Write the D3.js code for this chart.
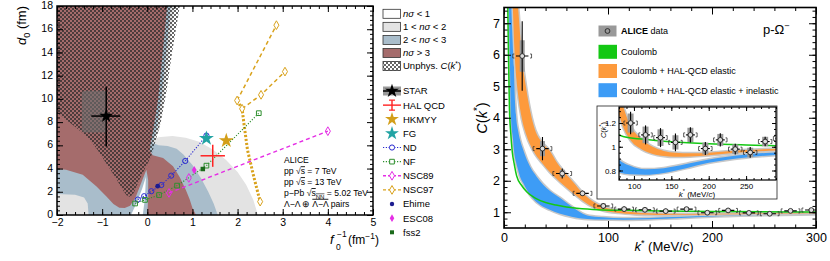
<!DOCTYPE html>
<html>
<head>
<meta charset="utf-8">
<script src="https://cdn.jsdelivr.net/npm/d3@7/dist/d3.min.js"></script>
<style>
html,body{margin:0;padding:0;background:#ffffff;}
svg{display:block;}
</style>
</head>
<body>
<svg id="chart" width="830" height="261"></svg>
<script>
// ================= DATA : LEFT PANEL  (f0^-1 [fm^-1], d0 [fm]) =================
const leftXTicks = [-2,-1,0,1,2,3,4,5];
const leftYTicks = [0,2,4,6,8,10,12,14,16,18];
const regionNs12 = [[-2,18],[0.6,18],[0.48,14],[0.37,10],[0.26,7.3],[0.17,6.6],[0.3,6.72],[0.56,6.8],[0.85,6.65],[1.15,6.3],[1.45,5.65],[1.74,4.75],[2.0,3.7],[2.19,2.6],[2.35,1.3],[2.45,0],[-2,0]];
const regionNs23 = [[-2,18],[0.52,18],[0.42,14],[0.31,10],[0.2,7.3],[0.12,6.2],[0.25,6.0],[0.45,5.95],[0.65,5.7],[0.8,5.2],[1.0,4.3],[1.2,3.1],[1.35,2.0],[1.47,1.0],[1.56,0],[-1.3,0],[-1.32,1.0],[-1.4,1.5],[-1.6,1.75],[-2,1.8]];
const regionNs3 = [[-2,18],[0.44,18],[0.34,14],[0.24,10],[0.13,7.3],[0.05,5.6],[0.12,5.15],[0.35,4.9],[0.57,4.2],[0.72,3.25],[0.85,2.2],[0.94,1.33],[1.0,0.6],[1.08,0],[0.0,0],[0.02,1.5],[0.02,3.0],[-0.02,3.9],[-0.12,2.9],[-0.26,1.5],[-0.38,0.8],[-0.5,0.6],[-0.62,0.62],[-0.75,0.95],[-0.91,1.62],[-1.13,2.47],[-1.43,3.47],[-1.8,3.9],[-2,3.96]];
const regionNs01 = [[-0.36,0],[-0.1,0],[-0.05,1.5],[-0.03,3.3],[-0.11,2.3],[-0.23,1.1]];
const regionUnphys = [[-2,18],[0.72,18],[0.55,14],[0.42,10.5],[0.3,8],[0.18,6.3],[0.08,5.0],[-0.05,4.0],[-0.17,3.05],[-0.3,1.9],[-0.38,1.55],[-0.46,1.7],[-0.55,2.2],[-0.7,3.2],[-0.9,4.4],[-1.1,5.6],[-1.3,6.6],[-1.6,7.6],[-2,8.8]];

const starPoint = {f:-0.91, d:8.52, fLo:-1.24, fHi:-0.6, dLo:5.9, dHi:11.06};
const starSys = {fLo:-1.45, fHi:-0.89, dLo:7.1, dHi:10.7};
const halQcd = {f:1.45, d:5.1, fErr:0.27, dErr:0.95};
const hkmyy = [1.75, 6.4];
const fgPt = [1.31, 6.6];
const ndF = [-0.21,-0.07,0.09,0.31,0.53,0.84,1.31];
const ndD = [1.33,1.62,2.05,2.58,3.39,4.65,6.84];
const nfF = [-0.27,-0.05,0.26,0.66,1.31,2.47];
const nfD = [0.99,1.3,1.72,2.53,4.25,8.77];
const nsc89F = [0.48,4.0];
const nsc89D = [1.9,7.22];
const nsc89ExtraF = [0.92];
const nsc89ExtraD = [3.19];
const nsc97aF = [1.99,2.86],            nsc97aD = [9.86,16.35];
const nsc97bF = [2.1,2.52,3.05],        nsc97bD = [9.15,10.35,12.35];
const nsc97cF = [1.99,2.1,2.15,2.22,2.34,2.5], nsc97cD = [9.86,9.15,7.6,5.6,3.6,1.15];
const ehime = [0.23,2.48];
const esc08 = [1.04,3.87];
const fss2 = [1.23,3.96];

// ================= DATA : RIGHT PANEL  (k* [MeV/c], C(k*)) =================
const rightXTicks = [0,100,200,300];
const rightYTicks = [1,2,3,4,5,6,7];
const insetXTicks = [100,150,200,250];
const insetYTicks = [0.8,1,1.2];
const kStar   = [17.5,37,56,75.5,95.5,115.5,135.5,155.5,175.5,195.5,215.5,235.5,255.5,275.5,295.5];
const cVal    = [5.96,3.02,2.23,1.6,1.2,1.1,1.077,1.037,1.1,0.985,1.058,0.98,0.952,1.044,1.07];
const statErr = [1.1,0.37,0.16,0.08,0.095,0.08,0.08,0.075,0.065,0.055,0.055,0.045,0.045,0.04,0.04];
const sysErr  = [0.5,0.24,0.12,0.06,0.08,0.07,0.07,0.06,0.06,0.05,0.05,0.04,0.04,0.04,0.04];
const kHalfBar = 6;      // horizontal bar half width (MeV/c)
const kBracket = 9;      // bracket offset (MeV/c)

const coulombK = [3.6,4.2,5.2,6.5,8,10,12.2,17,21.8,30,40,50,60,70,80,90,120,150,200,250,300];
const coulombC = [7.6,6.2,4.3,3.5,2.9,2.5,2.15,1.85,1.65,1.45,1.31,1.23,1.17,1.13,1.1,1.08,1.06,1.043,1.025,1.015,1.008];

const elasticK  = [8.5,10,12,13.5,17,21,26.6,30,37,44,50,56,66,76,86,96,110,125,140,155,175,200,250,300];
const elasticLo = [7.5,6.2,5.2,4.75,4.0,3.5,3.05,2.85,2.55,2.28,2.08,1.9,1.62,1.36,1.16,1.05,0.98,0.94,0.922,0.915,0.918,0.928,0.955,0.972];
const elasticHi = [9.5,8.8,8.0,7.5,6.0,5.0,4.0,3.6,3.2,2.95,2.62,2.35,1.98,1.6,1.33,1.17,1.065,1.0,0.965,0.95,0.945,0.95,0.972,0.985];

const inelasticK  = [4.8,5.8,6.7,8.7,9.6,11.5,13.5,15.4,18.6,25,31.4,44,54,65,80,95,115,140,170,200,250,300];
const inelasticLo = [7.5,5.5,4.02,3.3,2.97,2.6,2.35,2.13,1.92,1.55,1.32,1.08,0.95,0.86,0.785,0.768,0.765,0.78,0.82,0.865,0.91,0.935];
const inelasticHi = [10,9,8.2,7.5,5.6,4.1,3.6,3.3,2.97,2.45,2.13,1.68,1.45,1.18,0.895,0.84,0.81,0.82,0.855,0.893,0.935,0.955];

// ================= STYLE =================
const FONT = "'Liberation Sans', Arial, Helvetica, sans-serif";
const C_LGRAY = "#e3e3e3", C_BLUEGRAY = "#a9bdcb", C_MAROON = "#a56c6c";
const C_ND = "#2a2ad0", C_NF = "#2f8f2f", C_NSC89 = "#e52ee5", C_NSC97 = "#d9a21c";
const C_GREEN = "#14c814", C_ORANGE = "#fd9a3c", C_BLUE = "#3d9cf6", C_EDGE = "#c8c8c8";

const svg = d3.select("#chart");
const defs = svg.append("defs");
const zip = (a,b) => a.map((v,i)=>[v,b[i]]);

function clip(id,x,y,w,h){ defs.append("clipPath").attr("id",id).append("rect").attr("x",x).attr("y",y).attr("width",w).attr("height",h); }
const pat = defs.append("pattern").attr("id","hatch").attr("width",4).attr("height",4).attr("patternUnits","userSpaceOnUse");
pat.append("rect").attr("x",0).attr("y",0).attr("width",2).attr("height",2).attr("fill","#2a2a2a").attr("opacity",0.72);
pat.append("rect").attr("x",2).attr("y",2).attr("width",2).attr("height",2).attr("fill","#2a2a2a").attr("opacity",0.72);

function rich(sel, parts, fs){
  let cur = 0;
  for (const p of parts){
    const t = p[0], s = (p[1]||"").split(" ");
    const target = s.includes("sub") ? fs*0.3 : (s.includes("sup") ? -fs*0.4 : 0);
    const ts = sel.append("tspan").text(t).attr("dy", target-cur);
    cur = target;
    if (s.includes("i")) ts.attr("font-style","italic");
    if (s.includes("b")) ts.attr("font-weight","bold");
    if (s.includes("sub")||s.includes("sup")) ts.attr("font-size", fs*0.7);
    if (s.includes("ov")) ts.attr("text-decoration","overline");
  }
  return sel;
}

function ticksEvery(domain, step){
  const a = Math.min(domain[0],domain[1]), b = Math.max(domain[0],domain[1]);
  const out=[]; const n0=Math.ceil(a/step-1e-7), n1=Math.floor(b/step+1e-7);
  for(let i=n0;i<=n1;i++) out.push(+(i*step).toFixed(6));
  return out;
}

function axes(g, xs, ys, o){
  const [x0,x1] = xs.range(), [yb,yt] = ys.range();
  const mk = (fn, scale, vals, size, labels, tr) => {
    const a = fn(scale).tickValues(vals).tickSize(size).tickSizeOuter(0);
    if (labels) a.tickFormat(d3.format("~g")).tickPadding(labels); else a.tickFormat("");
    const gg = g.append("g").attr("transform",tr).call(a);
    gg.select(".domain").remove();
    gg.selectAll("line").attr("stroke","#000").attr("stroke-width",o.tw||1);
    gg.attr("font-family",FONT).attr("font-size",o.fs);
    gg.selectAll("text").attr("fill","#000");
    return gg;
  };
  const xMinor = ticksEvery(xs.domain(), o.xMinorStep), yMinor = ticksEvery(ys.domain(), o.yMinorStep);
  mk(d3.axisBottom, xs, xMinor, -o.minL, 0, `translate(0,${yb})`);
  mk(d3.axisBottom, xs, o.xMajor, -o.majL, o.xPad, `translate(0,${yb})`);
  mk(d3.axisTop, xs, xMinor, -o.minL, 0, `translate(0,${yt})`);
  mk(d3.axisTop, xs, o.xMajor, -o.majL, 0, `translate(0,${yt})`);
  mk(d3.axisLeft, ys, yMinor, -o.minL, 0, `translate(${x0},0)`);
  const yl = mk(d3.axisLeft, ys, o.yMajor, -o.majL, o.yPad, `translate(${x0},0)`);
  if (o.yLabelLift) yl.selectAll("text").attr("dy","0.25em");
  mk(d3.axisRight, ys, yMinor, -o.minL, 0, `translate(${x1},0)`);
  mk(d3.axisRight, ys, o.yMajor, -o.majL, 0, `translate(${x1},0)`);
  g.append("rect").attr("x",x0).attr("y",yt).attr("width",x1-x0).attr("height",yb-yt)
    .attr("fill","none").attr("stroke","#000").attr("stroke-width",o.fw||1.5);
}

// ================= LEFT PANEL =================
const xL = d3.scaleLinear([-2,5],[57,373]);
const yL = d3.scaleLinear([0,18],[215,6]);
clip("clipL",57,6,316,209);
const gL = svg.append("g");
const pL = gL.append("g").attr("clip-path","url(#clipL)");
const polyL = d3.line().x(d=>xL(d[0])).y(d=>yL(d[1]));
pL.append("path").attr("d",polyL(regionNs12)+"Z").attr("fill",C_LGRAY);
pL.append("path").attr("d",polyL(regionNs23)+"Z").attr("fill",C_BLUEGRAY);
pL.append("path").attr("d",polyL(regionNs3)+"Z").attr("fill",C_MAROON);
pL.append("path").attr("d",polyL(regionNs01)+"Z").attr("fill","#fff");
pL.append("path").attr("d",polyL(regionUnphys)+"Z").attr("fill","url(#hatch)");
pL.append("rect").attr("x",xL(starSys.fLo)).attr("y",yL(starSys.dHi))
  .attr("width",xL(starSys.fHi)-xL(starSys.fLo)).attr("height",yL(starSys.dLo)-yL(starSys.dHi))
  .attr("rx",3).attr("fill","#6e6e6e").attr("opacity",0.6);

function modelLine(g, F, D, color, w, dash){
  g.append("path").attr("d",polyL(zip(F,D))).attr("fill","none").attr("stroke",color)
    .attr("stroke-width",w).attr("stroke-dasharray",dash);
}
modelLine(pL, nsc97cF, nsc97cD, C_NSC97, 3, "2.2,1.8");
modelLine(pL, nsc97aF, nsc97aD, C_NSC97, 1.5, "4,3");
modelLine(pL, nsc97bF, nsc97bD, C_NSC97, 1.5, "4,3");
modelLine(pL, nsc89F, nsc89D, C_NSC89, 1.4, "4,3");
modelLine(pL, ndF, ndD, C_ND, 1.1, "1.2,1.6");
modelLine(pL, nfF, nfD, C_NF, 1.1, "1.2,1.6");

function sym(g, type, size, x, y, stroke, fill, sw){
  return g.append("path").attr("d",d3.symbol(type,size)()).attr("transform",`translate(${x},${y})`)
    .attr("fill",fill).attr("stroke",stroke).attr("stroke-width",sw||1);
}
zip(nsc97aF.concat(nsc97bF, [nsc97cF[nsc97cF.length-1]]), nsc97aD.concat(nsc97bD,[nsc97cD[nsc97cD.length-1]]))
  .forEach(p=>sym(pL,d3.symbolDiamond,22,xL(p[0]),yL(p[1]),C_NSC97,"#fff"));
zip(nsc89F.concat(nsc89ExtraF), nsc89D.concat(nsc89ExtraD)).forEach(p=>sym(pL,d3.symbolDiamond,22,xL(p[0]),yL(p[1]),C_NSC89,"none"));
zip(ndF,ndD).forEach(p=>pL.append("circle").attr("cx",xL(p[0])).attr("cy",yL(p[1])).attr("r",2.6).attr("fill","none").attr("stroke",C_ND).attr("stroke-width",1));
zip(nfF,nfD).forEach(p=>sym(pL,d3.symbolSquare,22,xL(p[0]),yL(p[1]),C_NF,"none"));
pL.append("circle").attr("cx",xL(ehime[0])).attr("cy",yL(ehime[1])).attr("r",2.4).attr("fill","#1c1c90");
sym(pL,d3.symbolDiamond,20,xL(esc08[0]),yL(esc08[1]),"none",C_NSC89);
sym(pL,d3.symbolSquare,20,xL(fss2[0]),yL(fss2[1]),"none","#1b6a1b");
sym(pL,d3.symbolStar,70,xL(fgPt[0]),yL(fgPt[1]),"none","#22a3a3");
sym(pL,d3.symbolStar,70,xL(hkmyy[0]),yL(hkmyy[1]),"none","#d39f1a");
// HAL QCD
pL.append("line").attr("x1",xL(halQcd.f-halQcd.fErr)).attr("x2",xL(halQcd.f+halQcd.fErr)).attr("y1",yL(halQcd.d)).attr("y2",yL(halQcd.d)).attr("stroke","#ff2222").attr("stroke-width",1.5);
pL.append("line").attr("x1",xL(halQcd.f)).attr("x2",xL(halQcd.f)).attr("y1",yL(halQcd.d-halQcd.dErr)).attr("y2",yL(halQcd.d+halQcd.dErr)).attr("stroke","#ff2222").attr("stroke-width",1.5);
// STAR
pL.append("line").attr("x1",xL(starPoint.fLo)).attr("x2",xL(starPoint.fHi)).attr("y1",yL(starPoint.d)).attr("y2",yL(starPoint.d)).attr("stroke","#000").attr("stroke-width",1.5);
pL.append("line").attr("x1",xL(starPoint.f)).attr("x2",xL(starPoint.f)).attr("y1",yL(starPoint.dLo)).attr("y2",yL(starPoint.dHi)).attr("stroke","#000").attr("stroke-width",1.5);
sym(pL,d3.symbolStar,60,xL(starPoint.f),yL(starPoint.d),"none","#000");

axes(gL, xL, yL, {xMajor:leftXTicks, yMajor:leftYTicks, xMinorStep:0.2, yMinorStep:0.4, majL:6, minL:3, fs:10.5, xPad:4, yPad:4, fw:1.5, yLabelLift:true});

// left panel texts
const infoLines = [
  [["ALICE"]],
  [["pp √"],["s","ov"],[" = 7 TeV"]],
  [["pp √"],["s","ov"],[" = 13 TeV"]],
  [["p−Pb √"],["s","ov"],["NN","sub ov"],[" = 5.02 TeV"]],
  [["Λ−Λ ⊕ "],["Λ−Λ","ov"],[" pairs"]]
];
const infoY = [163,174.3,185.2,196,206.8];
infoLines.forEach((parts,i)=>{
  const t = gL.append("text").attr("x",284).attr("y",infoY[i]).attr("font-family",FONT).attr("font-size",8.6).attr("fill","#000");
  rich(t, parts, 8.6);
});
// axis titles
rich(gL.append("text").attr("transform","translate(26,6) rotate(-90)").attr("text-anchor","end")
  .attr("font-family",FONT).attr("font-size",13), [["d","i"],["0","sub"],[" (fm)"]], 13);
gL.append("text").attr("x",330).attr("y",244).attr("font-family",FONT).attr("font-size",13).attr("font-style","italic").text("f");
gL.append("text").attr("x",337).attr("y",237).attr("font-family",FONT).attr("font-size",8.5).text("−1");
gL.append("text").attr("x",336).attr("y",250).attr("font-family",FONT).attr("font-size",8.5).text("0");
rich(gL.append("text").attr("x",348).attr("y",244).attr("font-family",FONT).attr("font-size",12),[["(fm"],["−1","sup"],[")"]],12);

// left legend
const legRegionLabels = [
  [["nσ","i"],[" < 1"]],
  [["1 < "],["nσ","i"],[" < 2"]],
  [["2 < "],["nσ","i"],[" < 3"]],
  [["nσ","i"],[" > 3"]],
  [["Unphys. "],["C","i"],["("],["k","i"],["*","sup"],[")"]]
];
const legRegionFills = ["#ffffff", C_LGRAY, C_BLUEGRAY, C_MAROON, "url(#hatch)"];
const legModelLabels = ["STAR","HAL QCD","HKMYY","FG","ND","NF","NSC89","NSC97","Ehime","ESC08","fss2"];
const gLeg = svg.append("g").attr("font-family",FONT).attr("font-size",9.5);
legRegionLabels.forEach((parts,i)=>{
  const y = 13.8 + i*13.05;
  gLeg.append("rect").attr("x",383).attr("y",y-4.5).attr("width",17.5).attr("height",9).attr("fill",legRegionFills[i]).attr("stroke","#333").attr("stroke-width",0.8);
  rich(gLeg.append("text").attr("x",403).attr("y",y+3.4), parts, 9.5);
});
const lx0=383, lx1=401, lxc=392;
legModelLabels.forEach((lab,i)=>{
  const y = 91 + i*14.13;
  const g = gLeg.append("g");
  if (lab==="STAR"){
    g.append("rect").attr("x",lx0).attr("y",y-4.5).attr("width",lx1-lx0).attr("height",9).attr("fill","#9a9a9a");
    g.append("line").attr("x1",lx0).attr("x2",lx1).attr("y1",y).attr("y2",y).attr("stroke","#000").attr("stroke-width",1.5);
    sym(g,d3.symbolStar,60,lxc,y,"none","#000");
  } else if (lab==="HAL QCD"){
    g.append("line").attr("x1",lx0).attr("x2",lx1).attr("y1",y).attr("y2",y).attr("stroke","#ff2222").attr("stroke-width",1.4);
    g.append("line").attr("x1",lxc).attr("x2",lxc).attr("y1",y-5).attr("y2",y+5).attr("stroke","#ff2222").attr("stroke-width",1.4);
    [y-5,y+5].forEach(yy=>g.append("line").attr("x1",lxc-3).attr("x2",lxc+3).attr("y1",yy).attr("y2",yy).attr("stroke","#ff2222").attr("stroke-width",1.2));
  } else if (lab==="HKMYY"){ sym(g,d3.symbolStar,60,lxc,y,"none","#d39f1a");
  } else if (lab==="FG"){ sym(g,d3.symbolStar,60,lxc,y,"none","#22a3a3");
  } else if (lab==="ND"){
    g.append("line").attr("x1",lx0).attr("x2",lx1).attr("y1",y).attr("y2",y).attr("stroke",C_ND).attr("stroke-width",1.1).attr("stroke-dasharray","1.2,1.6");
    g.append("circle").attr("cx",lxc).attr("cy",y).attr("r",2.6).attr("fill","#fff").attr("stroke",C_ND);
  } else if (lab==="NF"){
    g.append("line").attr("x1",lx0).attr("x2",lx1).attr("y1",y).attr("y2",y).attr("stroke",C_NF).attr("stroke-width",1.1).attr("stroke-dasharray","1.2,1.6");
    sym(g,d3.symbolSquare,22,lxc,y,C_NF,"#fff");
  } else if (lab==="NSC89"){
    g.append("line").attr("x1",lx0).attr("x2",lx1).attr("y1",y).attr("y2",y).attr("stroke",C_NSC89).attr("stroke-width",1.4).attr("stroke-dasharray","3,2");
    sym(g,d3.symbolDiamond,22,lxc,y,C_NSC89,"#fff");
  } else if (lab==="NSC97"){
    g.append("line").attr("x1",lx0).attr("x2",lx1).attr("y1",y).attr("y2",y).attr("stroke",C_NSC97).attr("stroke-width",1.4).attr("stroke-dasharray","3,2");
    sym(g,d3.symbolDiamond,22,lxc,y,C_NSC97,"#fff");
  } else if (lab==="Ehime"){ g.append("circle").attr("cx",lxc).attr("cy",y).attr("r",2.2).attr("fill","#1c1c90");
  } else if (lab==="ESC08"){ sym(g,d3.symbolDiamond,18,lxc,y,"none",C_NSC89);
  } else if (lab==="fss2"){ sym(g,d3.symbolSquare,16,lxc,y,"none","#1b6a1b"); }
  gLeg.append("text").attr("x",403).attr("y",y+3.4).text(lab);
});

// ================= RIGHT PANEL =================
const xR = d3.scaleLinear([0,300],[504,816]);
const yR = d3.scaleLinear([0.5,7.5],[228,7.5]);
clip("clipR",504,7.5,312,220.5);
const gR = svg.append("g");
const pR = gR.append("g").attr("clip-path","url(#clipR)");

function drawModels(g, xs, ys, edge, lw){
  const area = d3.area().x(d=>xs(d[0])).y0(d=>ys(d[1])).y1(d=>ys(d[2])).curve(d3.curveMonotoneX);
  const inel = inelasticK.map((k,i)=>[k,inelasticLo[i],inelasticHi[i]]);
  const el = elasticK.map((k,i)=>[k,elasticLo[i],elasticHi[i]]);
  [[inel,C_BLUE],[el,C_ORANGE]].forEach(([d,c])=>{
    g.append("path").attr("d",area(d)).attr("fill",C_EDGE).attr("stroke",C_EDGE).attr("stroke-width",edge).attr("stroke-linejoin","round");
    g.append("path").attr("d",area(d)).attr("fill",c);
  });
  g.append("path").attr("d",d3.line().x(d=>xs(d[0])).y(d=>ys(d[1])).curve(d3.curveMonotoneX)(zip(coulombK,coulombC)))
    .attr("fill","none").attr("stroke",C_GREEN).attr("stroke-width",lw);
}
function drawPoints(g, xs, ys, bw, r){
  kStar.forEach((k,i)=>{
    const c=cVal[i], px=xs(k), py=ys(c);
    g.append("rect").attr("x",px-bw/2).attr("y",ys(c+sysErr[i])).attr("width",bw).attr("height",ys(c-sysErr[i])-ys(c+sysErr[i])).attr("fill","#999");
    const bl = xs(k-kBracket), br = xs(k+kBracket);
    g.append("path").attr("d",`M${bl+1.5},${py-2}H${bl}V${py+2}H${bl+1.5}M${br-1.5},${py-2}H${br}V${py+2}H${br-1.5}`)
      .attr("fill","none").attr("stroke","#333").attr("stroke-width",0.8);
    g.append("line").attr("x1",px).attr("x2",px).attr("y1",ys(c-statErr[i])).attr("y2",ys(c+statErr[i])).attr("stroke","#000").attr("stroke-width",1.1);
    g.append("line").attr("x1",xs(k-kHalfBar)).attr("x2",xs(k+kHalfBar)).attr("y1",py).attr("y2",py).attr("stroke","#000").attr("stroke-width",1.1);
    g.append("circle").attr("cx",px).attr("cy",py).attr("r",r).attr("fill","#ddd").attr("stroke","#222").attr("stroke-width",0.9);
  });
}
drawModels(pR, xR, yR, 3, 1.5);
drawPoints(pR, xR, yR, 5, 2.4);
axes(gR, xR, yR, {xMajor:rightXTicks, yMajor:rightYTicks, xMinorStep:20, yMinorStep:0.2, majL:7, minL:3.5, fs:12.5, xPad:5, yPad:4, fw:1.6});
rich(gR.append("text").attr("transform","translate(487,118) rotate(-90)").attr("text-anchor","middle").attr("font-family",FONT).attr("font-size",14.5),
  [["C","i"],["("],["k","i"],["*","sup"],[")"]], 14.5);
rich(gR.append("text").attr("x",664).attr("y",251).attr("text-anchor","middle").attr("font-family",FONT).attr("font-size",13),
  [["k","i"],["*","sup"],[" (MeV/"],["c","i"],[")"]], 13);

// right legend
const gRL = gR.append("g").attr("font-family",FONT).attr("font-size",9);
gRL.append("rect").attr("x",598.5).attr("y",25.5).attr("width",18).attr("height",11).attr("fill","#999");
gRL.append("circle").attr("cx",607.5).attr("cy",31).attr("r",2.4).attr("fill","none").attr("stroke","#222").attr("stroke-width",0.9);
rich(gRL.append("text").attr("x",621).attr("y",34.3),[["ALICE","b"],[" data"]],9);
const legBandLabels = ["Coulomb","Coulomb + HAL-QCD elastic","Coulomb + HAL-QCD elastic + inelastic"];
const legBandColors = [C_GREEN, C_ORANGE, C_BLUE];
legBandLabels.forEach((lab,i)=>{
  const y = 51.8 + i*19.2;
  gRL.append("rect").attr("x",598.5).attr("y",y-7).attr("width",18.5).attr("height",14).attr("fill",legBandColors[i]);
  gRL.append("text").attr("x",621).attr("y",y+3.3).text(lab);
});
rich(gR.append("text").attr("x",763).attr("y",34).attr("font-family",FONT).attr("font-size",13),[["p-Ω"],["−","sup"]],13);

// ================= INSET =================
const xI = d3.scaleLinear([80,290],[619,776]);
const yI = d3.scaleLinear([0.72,1.335],[180,107]);
const gI = gR.append("g");
gI.append("rect").attr("x",597).attr("y",106).attr("width",180).attr("height",93).attr("fill","#fff").attr("stroke","#222").attr("stroke-width",0.8);
clip("clipI",619,107,157,73);
const pI = gI.append("g").attr("clip-path","url(#clipI)");
drawModels(pI, xI, yI, 3, 1.5);
drawPoints(pI, xI, yI, 6, 2.4);
axes(gI, xI, yI, {xMajor:insetXTicks, yMajor:insetYTicks, xMinorStep:10, yMinorStep:0.05, majL:4, minL:2, fs:8, xPad:3, yPad:3, fw:1.2});
rich(gI.append("text").attr("transform","translate(606,130) rotate(-90)").attr("text-anchor","middle").attr("font-family",FONT).attr("font-size",7.5),
  [["C","i"],["("],["k","i"],["*","sup"],[")"]], 7.5);
rich(gI.append("text").attr("x",697).attr("y",196.5).attr("text-anchor","middle").attr("font-family",FONT).attr("font-size",8),
  [["k","i"],["*","sup"],[" (MeV/"],["c","i"],[")"]], 8);
</script>
</body>
</html>
